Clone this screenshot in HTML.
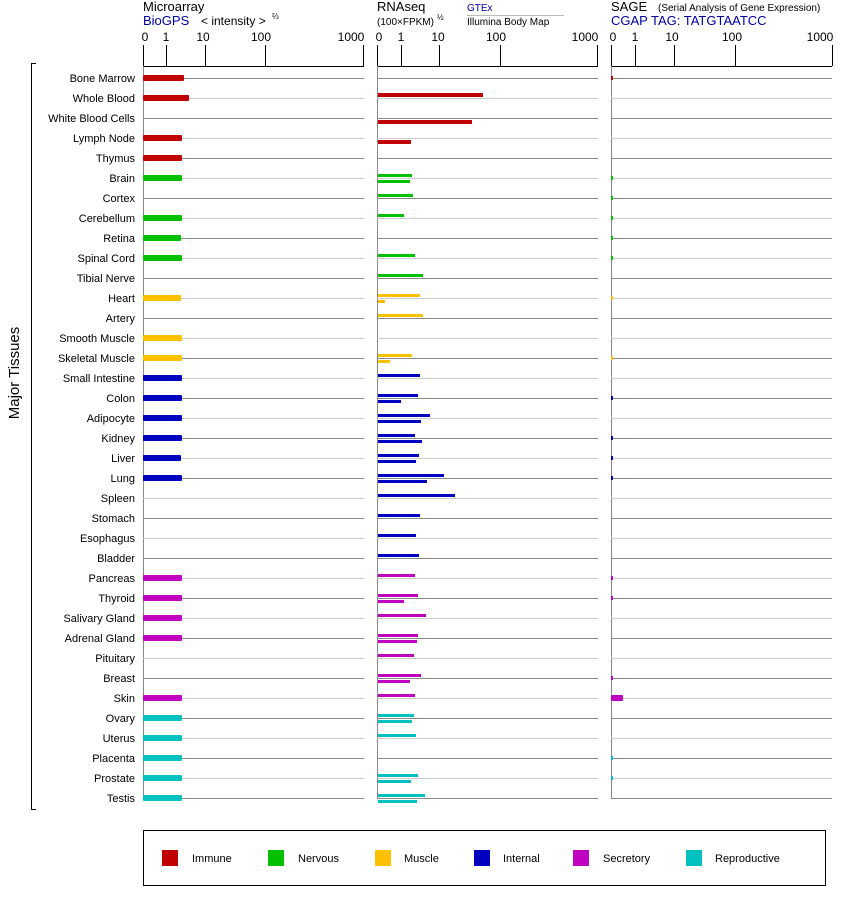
<!DOCTYPE html>
<html><head><meta charset="utf-8"><style>
body{margin:0;background:#fff;}
svg text{font-family:"Liberation Sans",Arial,sans-serif;}
</style></head><body>
<svg width="842" height="900" viewBox="0 0 842 900" xmlns="http://www.w3.org/2000/svg">
<!-- headers -->
<text x="143" y="11" font-size="13">Microarray</text>
<text x="143" y="25" font-size="13" fill="#0000a0">BioGPS</text>
<text x="201" y="25" font-size="12">&lt; intensity &gt;</text>
<text x="272" y="19" font-size="8">⅔</text>
<text x="377" y="11" font-size="13">RNAseq</text>
<text x="377" y="25" font-size="10">(100×FPKM)</text>
<text x="437" y="20" font-size="8">½</text>
<text x="467" y="11" font-size="10" fill="#0000a0">GTEx</text>
<line x1="467" y1="15.5" x2="564" y2="15.5" stroke="#bbb"/>
<text x="467" y="25" font-size="10">Illumina Body Map</text>
<text x="611" y="11" font-size="13">SAGE</text>
<text x="658" y="11" font-size="10">(Serial Analysis of Gene Expression)</text>
<text x="611" y="25" font-size="13" fill="#0000a0">CGAP TAG: TATGTAATCC</text>
<!-- axes -->
<g font-size="12" text-anchor="middle">
<text x="145" y="41">0</text><text x="166" y="41">1</text><text x="203" y="41">10</text><text x="261" y="41">100</text><text x="351" y="41">1000</text>
<text x="379" y="41">0</text><text x="401" y="41">1</text><text x="438" y="41">10</text><text x="496" y="41">100</text><text x="585" y="41">1000</text>
<text x="613" y="41">0</text><text x="635" y="41">1</text><text x="672" y="41">10</text><text x="732" y="41">100</text><text x="820" y="41">1000</text>
</g>
<g stroke="#000" stroke-width="1">
<line x1="143" y1="66.5" x2="364" y2="66.5"/>
<line x1="166.5" y1="45" x2="166.5" y2="66"/><line x1="205.5" y1="45" x2="205.5" y2="66"/><line x1="265.5" y1="45" x2="265.5" y2="66"/><line x1="363.5" y1="45" x2="363.5" y2="66"/>
<line x1="377" y1="66.5" x2="598" y2="66.5"/>
<line x1="401.5" y1="45" x2="401.5" y2="66"/><line x1="439.5" y1="45" x2="439.5" y2="66"/><line x1="500.5" y1="45" x2="500.5" y2="66"/><line x1="597.5" y1="45" x2="597.5" y2="66"/>
<line x1="611" y1="66.5" x2="832" y2="66.5"/>
<line x1="635.5" y1="45" x2="635.5" y2="66"/><line x1="674.5" y1="45" x2="674.5" y2="66"/><line x1="735.5" y1="45" x2="735.5" y2="66"/><line x1="832.5" y1="45" x2="832.5" y2="66"/>
<line x1="143.5" y1="45" x2="143.5" y2="66"/><line x1="377.5" y1="45" x2="377.5" y2="66"/><line x1="611.5" y1="45" x2="611.5" y2="66"/>
</g>
<g stroke="#888"><line x1="143.5" y1="66" x2="143.5" y2="798"/><line x1="377.5" y1="66" x2="377.5" y2="798"/><line x1="611.5" y1="66" x2="611.5" y2="798"/></g>
<!-- row lines -->
<g id="rl">
<g stroke="#888"><path d="M143 78.5H364M377 78.5H598M611 78.5H832M143 118.5H364M377 118.5H598M611 118.5H832M143 158.5H364M377 158.5H598M611 158.5H832M143 198.5H364M377 198.5H598M611 198.5H832M143 238.5H364M377 238.5H598M611 238.5H832M143 278.5H364M377 278.5H598M611 278.5H832M143 318.5H364M377 318.5H598M611 318.5H832M143 358.5H364M377 358.5H598M611 358.5H832M143 398.5H364M377 398.5H598M611 398.5H832M143 438.5H364M377 438.5H598M611 438.5H832M143 478.5H364M377 478.5H598M611 478.5H832M143 518.5H364M377 518.5H598M611 518.5H832M143 558.5H364M377 558.5H598M611 558.5H832M143 598.5H364M377 598.5H598M611 598.5H832M143 638.5H364M377 638.5H598M611 638.5H832M143 678.5H364M377 678.5H598M611 678.5H832M143 718.5H364M377 718.5H598M611 718.5H832M143 758.5H364M377 758.5H598M611 758.5H832M143 798.5H364M377 798.5H598M611 798.5H832"/></g>
<g stroke="#ccc"><path d="M143 98.5H364M377 98.5H598M611 98.5H832M143 138.5H364M377 138.5H598M611 138.5H832M143 178.5H364M377 178.5H598M611 178.5H832M143 218.5H364M377 218.5H598M611 218.5H832M143 258.5H364M377 258.5H598M611 258.5H832M143 298.5H364M377 298.5H598M611 298.5H832M143 338.5H364M377 338.5H598M611 338.5H832M143 378.5H364M377 378.5H598M611 378.5H832M143 418.5H364M377 418.5H598M611 418.5H832M143 458.5H364M377 458.5H598M611 458.5H832M143 498.5H364M377 498.5H598M611 498.5H832M143 538.5H364M377 538.5H598M611 538.5H832M143 578.5H364M377 578.5H598M611 578.5H832M143 618.5H364M377 618.5H598M611 618.5H832M143 658.5H364M377 658.5H598M611 658.5H832M143 698.5H364M377 698.5H598M611 698.5H832M143 738.5H364M377 738.5H598M611 738.5H832M143 778.5H364M377 778.5H598M611 778.5H832"/></g>
</g>
<!-- labels -->
<g font-size="11" text-anchor="end">
<text x="135" y="82">Bone Marrow</text><text x="135" y="102">Whole Blood</text><text x="135" y="122">White Blood Cells</text><text x="135" y="142">Lymph Node</text><text x="135" y="162">Thymus</text>
<text x="135" y="182">Brain</text><text x="135" y="202">Cortex</text><text x="135" y="222">Cerebellum</text><text x="135" y="242">Retina</text><text x="135" y="262">Spinal Cord</text><text x="135" y="282">Tibial Nerve</text>
<text x="135" y="302">Heart</text><text x="135" y="322">Artery</text><text x="135" y="342">Smooth Muscle</text><text x="135" y="362">Skeletal Muscle</text>
<text x="135" y="382">Small Intestine</text><text x="135" y="402">Colon</text><text x="135" y="422">Adipocyte</text><text x="135" y="442">Kidney</text><text x="135" y="462">Liver</text><text x="135" y="482">Lung</text><text x="135" y="502">Spleen</text><text x="135" y="522">Stomach</text><text x="135" y="542">Esophagus</text><text x="135" y="562">Bladder</text>
<text x="135" y="582">Pancreas</text><text x="135" y="602">Thyroid</text><text x="135" y="622">Salivary Gland</text><text x="135" y="642">Adrenal Gland</text><text x="135" y="662">Pituitary</text><text x="135" y="682">Breast</text><text x="135" y="702">Skin</text>
<text x="135" y="722">Ovary</text><text x="135" y="742">Uterus</text><text x="135" y="762">Placenta</text><text x="135" y="782">Prostate</text><text x="135" y="802">Testis</text>
</g>
<path d="M36 63.5H31.5V809.5H36" stroke="#000" fill="none"/>
<text transform="translate(19,373) rotate(-90)" font-size="15" text-anchor="middle">Major Tissues</text>
<!-- microarray bars -->
<g fill="#c00000">
<rect x="143" y="75" width="41" height="6" rx="1"/><rect x="143" y="95" width="46" height="6" rx="1"/><rect x="143" y="135" width="39" height="6" rx="1"/><rect x="143" y="155" width="39" height="6" rx="1"/>
<rect x="378" y="93" width="105" height="4"/><rect x="378" y="120" width="94" height="4"/><rect x="378" y="140" width="33" height="4"/>
<rect x="611" y="76" width="2" height="4"/>
</g>
<g fill="#00c000">
<rect x="143" y="175" width="39" height="6" rx="1"/><rect x="143" y="215" width="39" height="6" rx="1"/><rect x="143" y="235" width="38" height="6" rx="1"/><rect x="143" y="255" width="39" height="6" rx="1"/>
<rect x="378" y="174" width="34" height="3"/><rect x="378" y="180" width="32" height="3"/><rect x="378" y="194" width="35" height="3"/><rect x="378" y="214" width="26" height="3"/><rect x="378" y="254" width="37" height="3"/><rect x="378" y="274" width="45" height="3"/>
<rect x="611" y="176" width="2" height="4"/><rect x="611" y="196" width="2" height="4"/><rect x="611" y="216" width="2" height="4"/><rect x="611" y="236" width="2" height="4"/><rect x="611" y="256" width="2" height="4"/>
</g>
<g fill="#ffc000">
<rect x="143" y="295" width="38" height="6" rx="1"/><rect x="143" y="335" width="39" height="6" rx="1"/><rect x="143" y="355" width="39" height="6" rx="1"/>
<rect x="378" y="294" width="42" height="3"/><rect x="378" y="300" width="7" height="3"/><rect x="378" y="314" width="45" height="3"/><rect x="378" y="354" width="34" height="3"/><rect x="378" y="360" width="12" height="3"/>
<rect x="611" y="296" width="2" height="4"/><rect x="611" y="356" width="2" height="4"/>
</g>
<g fill="#0000c0">
<rect x="143" y="375" width="39" height="6" rx="1"/><rect x="143" y="395" width="39" height="6" rx="1"/><rect x="143" y="415" width="39" height="6" rx="1"/><rect x="143" y="435" width="39" height="6" rx="1"/><rect x="143" y="455" width="38" height="6" rx="1"/><rect x="143" y="475" width="39" height="6" rx="1"/>
<rect x="378" y="374" width="42" height="3"/><rect x="378" y="394" width="40" height="3"/><rect x="378" y="400" width="23" height="3"/><rect x="378" y="414" width="52" height="3"/><rect x="378" y="420" width="43" height="3"/><rect x="378" y="434" width="37" height="3"/><rect x="378" y="440" width="44" height="3"/><rect x="378" y="454" width="41" height="3"/><rect x="378" y="460" width="38" height="3"/><rect x="378" y="474" width="66" height="3"/><rect x="378" y="480" width="49" height="3"/><rect x="378" y="494" width="77" height="3"/><rect x="378" y="514" width="42" height="3"/><rect x="378" y="534" width="38" height="3"/><rect x="378" y="554" width="41" height="3"/>
<rect x="611" y="396" width="2" height="4"/><rect x="611" y="436" width="2" height="4"/><rect x="611" y="456" width="2" height="4"/><rect x="611" y="476" width="2" height="4"/>
</g>
<g fill="#c000c0">
<rect x="143" y="575" width="39" height="6" rx="1"/><rect x="143" y="595" width="39" height="6" rx="1"/><rect x="143" y="615" width="39" height="6" rx="1"/><rect x="143" y="635" width="39" height="6" rx="1"/><rect x="143" y="695" width="39" height="6" rx="1"/>
<rect x="378" y="574" width="37" height="3"/><rect x="378" y="594" width="40" height="3"/><rect x="378" y="600" width="26" height="3"/><rect x="378" y="614" width="48" height="3"/><rect x="378" y="634" width="40" height="3"/><rect x="378" y="640" width="39" height="3"/><rect x="378" y="654" width="36" height="3"/><rect x="378" y="674" width="43" height="3"/><rect x="378" y="680" width="32" height="3"/><rect x="378" y="694" width="37" height="3"/>
<rect x="611" y="576" width="2" height="4"/><rect x="611" y="596" width="2" height="4"/><rect x="611" y="676" width="2" height="4"/><rect x="611" y="695" width="12" height="6" rx="1"/>
</g>
<g fill="#00c0c0">
<rect x="143" y="715" width="39" height="6" rx="1"/><rect x="143" y="735" width="39" height="6" rx="1"/><rect x="143" y="755" width="39" height="6" rx="1"/><rect x="143" y="775" width="39" height="6" rx="1"/><rect x="143" y="795" width="39" height="6" rx="1"/>
<rect x="378" y="714" width="36" height="3"/><rect x="378" y="720" width="34" height="3"/><rect x="378" y="734" width="38" height="3"/><rect x="378" y="774" width="40" height="3"/><rect x="378" y="780" width="33" height="3"/><rect x="378" y="794" width="47" height="3"/><rect x="378" y="800" width="39" height="3"/>
<rect x="611" y="756" width="2" height="4"/><rect x="611" y="776" width="2" height="4"/>
</g>
<!-- legend -->
<rect x="143.5" y="830.5" width="682" height="55" fill="none" stroke="#000"/>
<g font-size="11">
<rect x="162" y="850" width="16" height="16" fill="#c00000"/><text x="192" y="862">Immune</text>
<rect x="268" y="850" width="16" height="16" fill="#00c000"/><text x="298" y="862">Nervous</text>
<rect x="375" y="850" width="16" height="16" fill="#ffc000"/><text x="404" y="862">Muscle</text>
<rect x="474" y="850" width="16" height="16" fill="#0000c0"/><text x="503" y="862">Internal</text>
<rect x="573" y="850" width="16" height="16" fill="#c000c0"/><text x="603" y="862">Secretory</text>
<rect x="686" y="850" width="16" height="16" fill="#00c0c0"/><text x="715" y="862">Reproductive</text>
</g>
</svg>
</body></html>
